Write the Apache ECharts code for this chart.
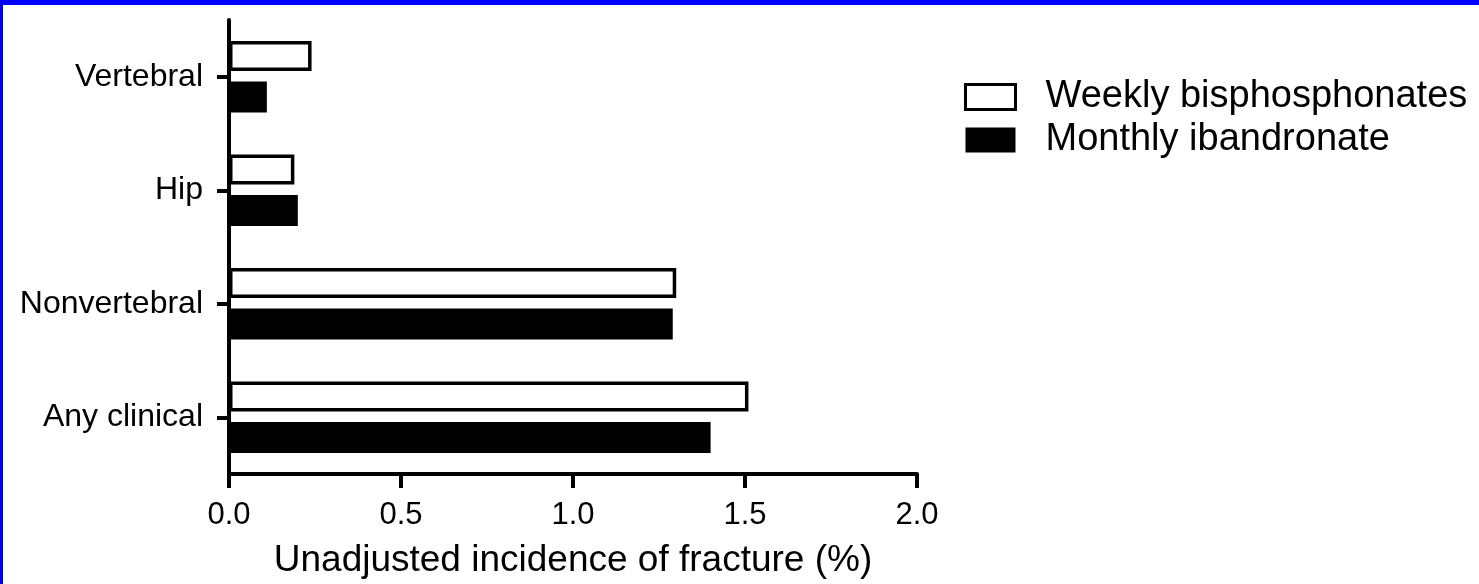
<!DOCTYPE html>
<html>
<head>
<meta charset="utf-8">
<script src="https://cdn.jsdelivr.net/npm/echarts@6/dist/echarts.min.js"></script>
<style>
  html, body { margin: 0; padding: 0; background: #0000ff; width: 1479px; height: 584px; overflow: hidden; }
  #chart { position: absolute; left: 3px; top: 5px; width: 1476px; height: 579px; background: #ffffff; }
</style>
</head>
<body>
<div id="chart"></div>
<script>
const categories = ['Vertebral', 'Hip', 'Nonvertebral', 'Any clinical'];
const weeklyValues = [0.24, 0.19, 1.30, 1.51];
const monthlyValues = [0.11, 0.20, 1.29, 1.40];
const xTicks = { min: 0, max: 2.0, interval: 0.5 };
const seriesNames = ['Weekly bisphosphonates', 'Monthly ibandronate'];
const xAxisTitle = 'Unadjusted incidence of fracture (%)';

const FONT = '"Liberation Sans", Arial, Helvetica, sans-serif';
const chart = echarts.init(document.getElementById('chart'), null, { renderer: 'canvas' });
chart.setOption({
  animation: false,
  backgroundColor: '#ffffff',
  grid: { left: 226, right: 562, top: 15, bottom: 106, containLabel: false },
  legend: {
    orient: 'vertical',
    left: 956,
    top: 68,
    itemWidth: 50,
    itemHeight: 25,
    itemGap: 5,
    icon: 'rect',
    textStyle: { fontFamily: FONT, fontSize: 38, color: '#000', padding: [0, 0, 0, 25] },
    data: [
      { name: seriesNames[0], itemStyle: { color: '#ffffff', borderColor: '#000', borderWidth: 3 } },
      { name: seriesNames[1], itemStyle: { color: '#000000', borderColor: '#000', borderWidth: 0 } }
    ]
  },
  xAxis: {
    type: 'value',
    min: xTicks.min, max: xTicks.max, interval: xTicks.interval,
    name: xAxisTitle,
    nameLocation: 'middle',
    nameGap: 68,
    nameTextStyle: { fontFamily: FONT, fontSize: 37, color: '#000' },
    axisLine: { show: true, lineStyle: { color: '#000', width: 4 } },
    axisTick: { show: true, length: 14, lineStyle: { color: '#000', width: 4 } },
    axisLabel: { fontFamily: FONT, fontSize: 31, color: '#000', margin: 26,
      formatter: v => v.toFixed(1) },
    splitLine: { show: false }
  },
  yAxis: {
    type: 'category',
    data: categories,
    inverse: true,
    axisLine: { show: true, onZero: false, lineStyle: { color: '#000', width: 4 } },
    axisTick: { show: true, alignWithLabel: true, length: 12, lineStyle: { color: '#000', width: 4 } },
    axisLabel: { fontFamily: FONT, fontSize: 32, color: '#000', margin: 26 },
    splitLine: { show: false }
  },
  series: [
    {
      name: seriesNames[0], type: 'bar', data: weeklyValues,
      barWidth: 30, barGap: '35%',
      itemStyle: { color: '#ffffff', borderColor: '#000', borderWidth: 3.5 }
    },
    {
      name: seriesNames[1], type: 'bar', data: monthlyValues,
      barWidth: 31, barGap: '35%',
      itemStyle: { color: '#000000', borderColor: '#000', borderWidth: 0 }
    }
  ]
});
</script>
</body>
</html>
